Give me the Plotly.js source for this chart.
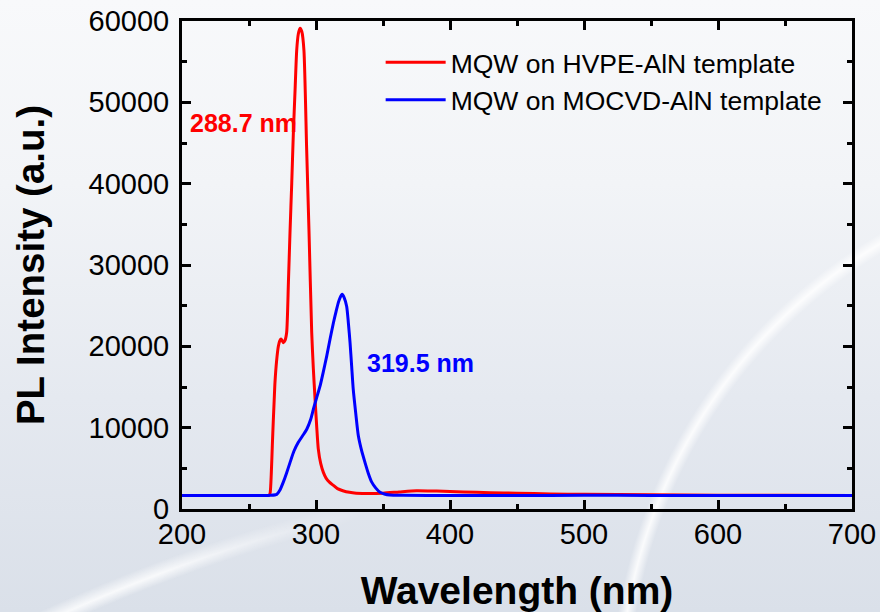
<!DOCTYPE html>
<html>
<head>
<meta charset="utf-8">
<script src="https://cdn.plot.ly/plotly-3.0.1.min.js"></script>
<style>
html,body{margin:0;padding:0;}
body{
  width:880px;height:612px;overflow:hidden;position:relative;
  background:
    radial-gradient(circle 530px at 1150px 700px, rgba(255,255,255,0) 521px, rgba(255,255,255,0.85) 530px, rgba(255,255,255,0) 539px),
    linear-gradient(to bottom, #f8f9fb 0%, #f2f4f7 30%, #e5e9f0 65%, #dae0e9 100%);
}
#sw1{
  position:absolute;left:0;top:0;width:880px;height:612px;
  background: radial-gradient(circle 1650px at 741px 2118px, rgba(255,255,255,0) 1640px, rgba(255,255,255,0.8) 1650px, rgba(255,255,255,0) 1662px);
  -webkit-mask-image: linear-gradient(to right, #000 0%, #000 18%, transparent 42%);
  mask-image: linear-gradient(to right, #000 0%, #000 18%, transparent 42%);
}
#chart{position:absolute;left:0;top:0;width:880px;height:612px;}
</style>
</head>
<body>
<div id="sw1"></div>
<div id="chart"></div>
<script>
// Series 1: MQW on HVPE-AlN template (red)
const hvpeWavelength = [200, 230, 260, 265, 265.8, 266.6, 267.4, 268.1, 268.8, 269.4, 270.6, 271.9, 273.0, 273.9, 274.8, 275.6, 276.8, 278.1, 279.4, 280.6, 281.9, 283.1, 284.4, 285.6, 286.8, 288.1, 289.4, 291.0, 293.0, 294.8, 296.8, 298.0, 299.3, 300.5, 301.7, 303.5, 305.5, 307.5, 310, 313, 316, 320, 325, 330, 340, 350, 362, 375, 390, 410, 430, 450, 475, 500, 550, 600, 650, 700];
const hvpeIntensity  = [1650, 1650, 1660, 1680, 2000, 4200, 7800, 10700, 13400, 15600, 18200, 20000, 20700, 20900, 20700, 20450, 20700, 21700, 27800, 34000, 40100, 46200, 51600, 56400, 58400, 59100, 58700, 56400, 44400, 34000, 21700, 17300, 13500, 10200, 7400, 5600, 4500, 3800, 3300, 2900, 2500, 2250, 2050, 1950, 1900, 1950, 2100, 2250, 2200, 2100, 2000, 1950, 1850, 1800, 1750, 1700, 1680, 1650];

// Series 2: MQW on MOCVD-AlN template (blue)
const mocvdWavelength = [200, 230, 260, 266, 270.7, 273, 275.6, 278, 280.6, 283.5, 286.8, 290, 293.1, 296, 298.1, 300.5, 303, 305.5, 308, 310.5, 313, 315, 316.7, 318, 319.5, 321, 322.9, 324.2, 325.4, 326.6, 327.8, 329.7, 331.6, 334, 336.6, 339, 341.6, 344.5, 347.8, 351, 355, 365, 400, 450, 500, 550, 600, 650, 700];
const mocvdIntensity  = [1650, 1650, 1650, 1680, 1800, 2300, 3300, 4400, 5700, 7100, 8200, 9000, 9800, 11000, 12300, 13700, 15100, 16900, 18800, 20900, 22900, 24300, 25400, 26000, 26400, 26000, 24900, 22800, 20450, 17600, 14700, 11700, 9000, 7200, 5700, 4400, 3300, 2600, 2050, 1850, 1720, 1680, 1650, 1660, 1680, 1670, 1660, 1650, 1650];

const seriesNames = ["MQW on HVPE-AlN template", "MQW on MOCVD-AlN template"];
const peakLabels = ["288.7 nm", "319.5 nm"];

const FONT = '"Liberation Sans", Arial, sans-serif';

const traces = [
  {x: hvpeWavelength, y: hvpeIntensity, type: 'scatter', mode: 'lines', name: seriesNames[0],
   line: {color: '#ff0000', width: 3, shape: 'spline', smoothing: 0.6}},
  {x: mocvdWavelength, y: mocvdIntensity, type: 'scatter', mode: 'lines', name: seriesNames[1],
   line: {color: '#0000ff', width: 3, shape: 'spline', smoothing: 0.6}}
];

const axisCommon = {
  showline: true, linecolor: '#000', linewidth: 3, mirror: 'ticks',
  ticks: 'inside', ticklen: 9, tickwidth: 3, tickcolor: '#000',
  showgrid: false, zeroline: false,
  tickfont: {family: FONT, size: 29, color: '#000'}
};

const layout = {
  width: 880, height: 612,
  paper_bgcolor: 'rgba(0,0,0,0)', plot_bgcolor: 'rgba(0,0,0,0)',
  margin: {l: 182, r: 28, t: 21, b: 103},
  showlegend: true,
  legend: {
    x: 0.2965, y: 0.964, xanchor: 'left', yanchor: 'top',
    bgcolor: 'rgba(0,0,0,0)', borderwidth: 0,
    font: {family: FONT, size: 26.5, color: '#000'},
    itemwidth: 60, tracegroupgap: 0
  },
  xaxis: Object.assign({}, axisCommon, {
    range: [200, 700], dtick: 100, tick0: 200,
    ticklabelstandoff: -3,
    minor: {ticks: 'inside', ticklen: 5, tickwidth: 3, tickcolor: '#000', dtick: 50, showgrid: false},
    title: {text: '<b>Wavelength (nm)</b>', font: {family: FONT, size: 39, color: '#000'}, standoff: 28}
  }),
  yaxis: Object.assign({}, axisCommon, {
    range: [0, 60000], dtick: 10000, tick0: 0, tickformat: 'd',
    ticklabelstandoff: 4,
    minor: {ticks: 'inside', ticklen: 5, tickwidth: 3, tickcolor: '#000', dtick: 5000, showgrid: false},
    title: {text: '<b>PL Intensity (a.u.)</b>', font: {family: FONT, size: 38.5, color: '#000'}, standoff: 33}
  }),
  annotations: [
    {x: 204.5, y: 47400, xref: 'x', yref: 'y', text: '<b>' + peakLabels[0] + '</b>', showarrow: false,
     xanchor: 'left', yanchor: 'middle', font: {family: FONT, size: 25, color: '#ff0000'}},
    {x: 336.6, y: 17900, xref: 'x', yref: 'y', text: '<b>' + peakLabels[1] + '</b>', showarrow: false,
     xanchor: 'left', yanchor: 'middle', font: {family: FONT, size: 25, color: '#0000ff'}}
  ]
};

Plotly.newPlot('chart', traces, layout, {displayModeBar: false, staticPlot: true});
</script>
</body>
</html>
